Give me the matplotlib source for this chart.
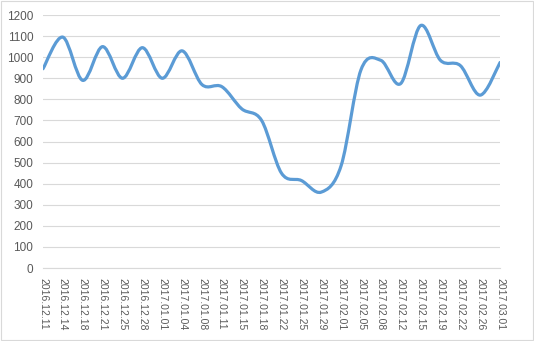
import numpy as np
import matplotlib.pyplot as plt
from matplotlib.path import Path
from matplotlib.patches import PathPatch, Rectangle

dates = ['2016.12.11', '2016.12.14', '2016.12.18', '2016.12.21', '2016.12.25',
         '2016.12.28', '2017.01.01', '2017.01.04', '2017.01.08', '2017.01.11',
         '2017.01.15', '2017.01.18', '2017.01.22', '2017.01.25', '2017.01.29',
         '2017.02.01', '2017.02.05', '2017.02.08', '2017.02.12', '2017.02.15',
         '2017.02.19', '2017.02.22', '2017.02.26', '2017.03.01']
values = [945, 1095, 890, 1050, 900, 1045, 900, 1030, 870, 860,
          755, 700, 450, 415, 360, 485, 940, 985, 875, 1150,
          985, 960, 820, 975]
y_ticks = list(range(0, 1201, 100))

plt.rcParams['font.family'] = ['Liberation Sans', 'DejaVu Sans']

fig = plt.figure(figsize=(5.34, 3.41), dpi=100)
fig.patches.append(Rectangle((0.002, 0.003), 0.996, 0.994, transform=fig.transFigure,
                             fill=False, edgecolor='#D9D9D9', linewidth=0.8))
ax = fig.add_axes([0.0805, 0.214, 0.856, 0.742])

# smoothed line like excel: cubic bezier segments through each point
x = np.arange(len(values), dtype=float)
y = np.array(values, dtype=float)
verts = [(x[0], y[0])]
codes = [Path.MOVETO]
n = len(x)
for i in range(n - 1):
    p0 = np.array([x[max(i - 1, 0)], y[max(i - 1, 0)]])
    p1 = np.array([x[i], y[i]])
    p2 = np.array([x[i + 1], y[i + 1]])
    p3 = np.array([x[min(i + 2, n - 1)], y[min(i + 2, n - 1)]])
    c1 = p1 + (p2 - p0) / 6.0
    c2 = p2 - (p3 - p1) / 6.0
    verts += [tuple(c1), tuple(c2), tuple(p2)]
    codes += [Path.CURVE4] * 3
ax.add_patch(PathPatch(Path(verts, codes), fill=False, edgecolor='#5B9BD5',
                       linewidth=2.3, capstyle='round', joinstyle='round', zorder=3))

ax.set_xlim(0, n - 1)
ax.set_ylim(0, 1200)
ax.set_yticks(y_ticks)
ax.set_xticks(x)
ax.set_xticklabels(dates, rotation=-90, fontsize=7.5, color='#595959')
ax.tick_params(axis='y', labelsize=8.5, labelcolor='#595959', length=0, pad=7)
ax.tick_params(axis='x', length=0, pad=7)
for lbl in ax.get_xticklabels():
    lbl.set_va('top')
    lbl.set_ha('center')
ax.grid(axis='y', color='#D9D9D9', linewidth=0.8)
ax.set_axisbelow(True)
for s in ['top', 'right', 'left']:
    ax.spines[s].set_visible(False)
ax.spines['bottom'].set_color('#D9D9D9')
ax.spines['bottom'].set_linewidth(0.8)

fig.savefig('out.png', dpi=100)
